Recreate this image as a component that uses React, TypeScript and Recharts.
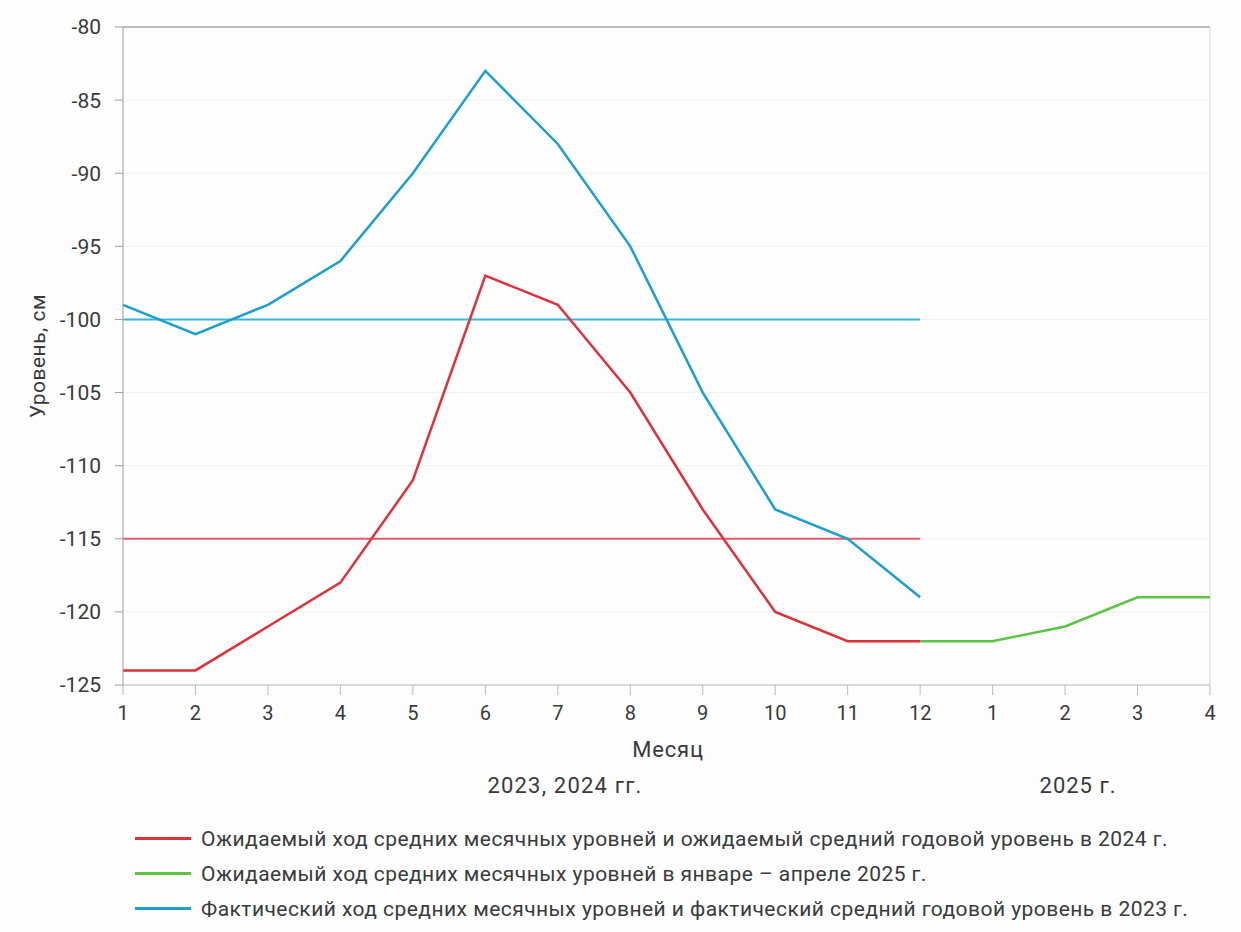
import React from "react";
import {
  LineChart,
  Line,
  XAxis,
  YAxis,
  CartesianGrid,
  ReferenceLine,
} from "recharts";

// month positions on the x axis: 1..12 of 2023/2024, then Jan–Apr 2025
const positions = [1, 2, 3, 4, 5, 6, 7, 8, 9, 10, 11, 12, 13, 14, 15, 16];
const tickLabels = ["1", "2", "3", "4", "5", "6", "7", "8", "9", "10", "11", "12", "1", "2", "3", "4"];

const level2024 = [-124, -124, -121, -118, -111, -97, -99, -105, -113, -120, -122, -122];
const level2023 = [-99, -101, -99, -96, -90, -83, -88, -95, -105, -113, -115, -119];
// Dec 2024 (start point) + January–April 2025
const level2025 = [-122, -122, -121, -119, -119];
const mean2024 = -115;
const mean2023 = -100;

const yTicks = [-125, -120, -115, -110, -105, -100, -95, -90, -85, -80];

const RED = "#e0303a";
const GREEN = "#5cc444";
const BLUE = "#1a9fcf";

const legendItems = [
  { color: RED, text: "Ожидаемый ход средних месячных уровней и ожидаемый средний годовой уровень в 2024 г." },
  { color: GREEN, text: "Ожидаемый ход средних месячных уровней в январе – апреле 2025 г." },
  { color: BLUE, text: "Фактический ход средних месячных уровней и фактический средний годовой уровень в 2023 г." },
];

const data = positions.map((x, i) => ({
  x,
  r: i < level2024.length ? level2024[i] : null,
  b: i < level2023.length ? level2023[i] : null,
  g: i >= 11 ? level2025[i - 11] : null,
  rm: i < 12 ? mean2024 : null,
  bm: i < 12 ? mean2023 : null,
}));

const FONT = "Roboto, 'Noto Sans', sans-serif";
const TEXT = "#3a3a3a";

export default function App() {
  return (
    <div
      style={{
        position: "absolute",
        left: 0,
        top: 0,
        width: 1241,
        height: 932,
        background: "#fdfdfe",
        fontFamily: FONT,
        color: TEXT,
      }}
    >
      <LineChart
        width={1241}
        height={932}
        data={data}
        margin={{ top: 27, right: 31, left: 0, bottom: 207 }}
      >
        <CartesianGrid vertical={false} stroke="#eef0f3" />
        <XAxis
          dataKey="x"
          type="number"
          domain={[1, 16]}
          ticks={positions}
          interval={0}
          tickFormatter={(v) => tickLabels[v - 1]}
          height={40}
          tickSize={10}
          tickMargin={11}
          stroke="#b8bcc2"
          tick={{ fill: TEXT, fontSize: 20, fontFamily: FONT }}
        />
        <YAxis
          type="number"
          domain={[-125, -80]}
          ticks={yTicks}
          interval={0}
          width={123}
          tickSize={8}
          tickMargin={14}
          stroke="#9a9ea4"
          tick={{ fill: TEXT, fontSize: 21, fontFamily: FONT }}
          label={{
            value: "Уровень, см",
            angle: -90,
            position: "insideLeft",
            offset: 38,
            style: { textAnchor: "middle", fill: TEXT, fontSize: 21, fontFamily: FONT, letterSpacing: 0.5 },
          }}
        />
        <ReferenceLine y={-80} stroke="#a4a8ae" strokeWidth={1.5} />
        <ReferenceLine x={16} stroke="#d4d7dc" strokeWidth={1} />
        <Line dataKey="bm" stroke="#3ab6da" strokeWidth={2} dot={false} isAnimationActive={false} />
        <Line dataKey="rm" stroke="#e65c68" strokeWidth={2} dot={false} isAnimationActive={false} />
        <Line dataKey="b" stroke={BLUE} strokeWidth={2.5} dot={false} isAnimationActive={false} />
        <Line dataKey="r" stroke={RED} strokeWidth={2.5} dot={false} isAnimationActive={false} />
        <Line dataKey="g" stroke={GREEN} strokeWidth={2.5} dot={false} isAnimationActive={false} />
      </LineChart>

      <div style={{ position: "absolute", left: 518, width: 300, top: 737, textAlign: "center", fontSize: 22, letterSpacing: 0.8 }}>
        Месяц
      </div>
      <div style={{ position: "absolute", left: 415, width: 300, top: 773, textAlign: "center", fontSize: 22, letterSpacing: 1.2 }}>
        2023, 2024 гг.
      </div>
      <div style={{ position: "absolute", left: 978, width: 200, top: 773, textAlign: "center", fontSize: 22, letterSpacing: 1 }}>
        2025 г.
      </div>

      <div style={{ position: "absolute", left: 135, top: 821 }}>
        {legendItems.map((item) => (
          <div key={item.text} style={{ display: "flex", alignItems: "center", height: 35 }}>
            <div style={{ width: 56, height: 3, background: item.color, marginRight: 10 }} />
            <span style={{ fontSize: 21, letterSpacing: 0.45 }}>{item.text}</span>
          </div>
        ))}
      </div>
    </div>
  );
}
